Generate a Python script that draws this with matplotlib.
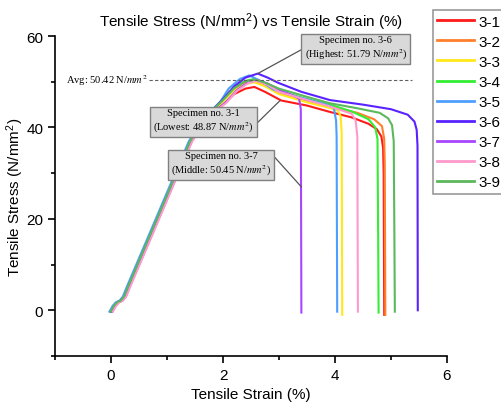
import matplotlib
matplotlib.use("Agg")
import matplotlib.pyplot as plt

plt.rcParams['font.family'] = ['Liberation Sans', 'DejaVu Sans']
plt.rcParams['mathtext.fontset'] = 'stix'

specimens = ['3-1', '3-2', '3-3', '3-4', '3-5', '3-6', '3-7', '3-8', '3-9']
colors = ['#ff1a1a', '#ff7f2a', '#ffe81a', '#33ee33', '#4d9fff',
          '#5a22ff', '#a845ff', '#ff99cc', '#5cb85c']

# elastic part shared by every specimen (strain %, stress N/mm2)
rise_strain = [0.0, 0.06, 0.12, 0.18, 0.24, 0.32, 0.70, 1.13, 1.42, 1.70]
rise_stress = [-0.3, 1.0, 1.8, 2.1, 3.0, 5.4, 16.3, 28.7, 37.0, 42.3]
rise_shift = [0.02, 0.0, 0.01, -0.01, -0.03, 0.0, 0.02, 0.03, -0.01]

# yield / plateau / fracture part of each specimen
tail_strain = {
    '3-1': [2.0, 2.2, 2.4, 2.56, 2.75, 3.04, 3.5, 3.91, 4.3, 4.6, 4.75, 4.83, 4.86, 4.87, 4.88],
    '3-2': [2.0, 2.2, 2.4, 2.55, 2.75, 3.0, 3.5, 3.91, 4.4, 4.7, 4.84, 4.88, 4.89, 4.90],
    '3-3': [2.0, 2.2, 2.4, 2.56, 2.75, 3.0, 3.5, 3.9, 4.05, 4.1, 4.12, 4.13],
    '3-4': [2.0, 2.2, 2.4, 2.55, 2.75, 3.0, 3.5, 3.91, 4.3, 4.6, 4.72, 4.76, 4.77, 4.78],
    '3-5': [1.95, 2.1, 2.3, 2.47, 2.65, 2.9, 3.3, 3.8, 3.98, 4.02, 4.03, 4.04],
    '3-6': [2.0, 2.2, 2.4, 2.62, 2.8, 2.98, 3.4, 3.91, 4.5, 5.0, 5.3, 5.42, 5.46, 5.475, 5.48],
    '3-7': [2.05, 2.25, 2.45, 2.6, 2.8, 3.0, 3.25, 3.36, 3.39, 3.40],
    '3-8': [2.05, 2.25, 2.45, 2.6, 2.8, 3.0, 3.5, 3.91, 4.3, 4.37, 4.40, 4.41],
    '3-9': [2.0, 2.2, 2.4, 2.58, 2.75, 3.0, 3.5, 3.91, 4.4, 4.8, 4.95, 5.02, 5.05, 5.06, 5.07],
}
tail_stress = {
    '3-1': [45.0, 47.3, 48.5, 48.87, 47.8, 45.9, 44.8, 43.4, 42.2, 40.8, 39.6, 38.0, 35.5, 30.0, -1.0],
    '3-2': [45.8, 48.3, 49.7, 50.1, 49.2, 47.6, 45.8, 44.6, 43.2, 41.8, 40.3, 37.5, 32.0, -1.0],
    '3-3': [45.7, 48.1, 49.5, 49.9, 49.0, 47.3, 45.5, 44.3, 43.7, 42.5, 39.0, -1.0],
    '3-4': [46.2, 48.8, 50.2, 50.6, 49.7, 48.0, 46.2, 45.0, 43.5, 41.8, 40.0, 37.5, 20.0, -0.5],
    '3-5': [45.6, 48.5, 50.6, 51.4, 50.3, 48.3, 46.8, 45.2, 44.3, 41.5, 38.0, -0.3],
    '3-6': [46.2, 49.0, 50.9, 51.79, 50.9, 49.8, 47.8, 46.0, 45.0, 44.0, 42.8, 41.3, 39.5, 36.0, 0.0],
    '3-7': [45.5, 48.2, 49.9, 50.45, 49.6, 48.3, 47.0, 46.3, 44.0, -0.5],
    '3-8': [45.3, 48.0, 49.7, 50.2, 49.3, 47.8, 46.0, 44.6, 43.0, 41.5, 38.0, -0.3],
    '3-9': [46.0, 48.6, 50.1, 50.47, 49.8, 48.5, 46.7, 45.3, 44.2, 43.2, 42.0, 40.5, 37.0, 20.0, -0.3],
}

avg_stress = 50.42
avg_span = [0.68, 5.37]

fig = plt.figure(figsize=(5.01, 4.06), dpi=100)
ax = fig.add_axes([0.110, 0.1207, 0.782, 0.788])

for name, c, dx in zip(specimens, colors, rise_shift):
    x = [s + dx for s in rise_strain] + tail_strain[name]
    y = rise_stress + tail_stress[name]
    ax.plot(x, y, color=c, lw=1.5, label=name)

# average line with its label
ax.plot(avg_span, [avg_stress, avg_stress], color='#606060', lw=0.8,
        ls=(0, (3, 2)))
ax.text(avg_span[0] - 0.02, avg_stress, 'Avg: 50.42 N/$mm^2$', ha='right',
        va='center', fontsize=7.6, family='Liberation Serif')

box = dict(boxstyle='square,pad=0.3', fc='#d9d9d9', ec='#808080', lw=1)
arrow = dict(arrowstyle='-', color='#555555', lw=0.9, shrinkA=0, shrinkB=0)
notes = [
    ('Specimen no. 3-6\n(Highest: 51.79 N/$mm^2$)', (2.62, 51.79), (4.37, 57.4), (0, 0.5)),
    ('Specimen no. 3-1\n(Lowest: 48.87 N/$mm^2$)', (3.02, 45.9), (1.65, 41.4), (1, 0.3)),
    ('Specimen no. 3-7\n(Middle: 50.45 N/$mm^2$)', (3.40, 27.0), (1.97, 32.0), (1, 0.9)),
]
for txt, xy, xytext, rel in notes:
    a = dict(arrow, relpos=rel)
    ax.annotate(txt, xy=xy, xytext=xytext, ha='center', va='center',
                fontsize=7.5, family='Liberation Serif', bbox=box,
                arrowprops=a, linespacing=1.3)

ax.set_xlim(-1, 6)
ax.set_ylim(-10, 60)
ax.set_xticks([0, 2, 4, 6])
ax.set_xticks([-1, 1, 3, 5], minor=True)
ax.set_yticks([0, 20, 40, 60])
ax.set_yticks([-10, 10, 30, 50], minor=True)
ax.spines['top'].set_visible(False)
ax.spines['right'].set_visible(False)
ax.spines['left'].set_linewidth(1.2)
ax.spines['bottom'].set_linewidth(1.2)
ax.tick_params(which='major', direction='out', length=5, width=1.2, labelsize=11)
ax.tick_params(which='minor', direction='out', length=3, width=1.2)

ax.set_xlabel('Tensile Strain (%)', fontsize=11, labelpad=4)
ax.set_ylabel('Tensile Stress (N/mm$\\mathregular{^2}$)', fontsize=11, labelpad=0.5)
ax.set_title('Tensile Stress (N/mm$\\mathregular{^2}$) vs Tensile Strain (%)',
             fontsize=11, pad=7)

leg = fig.legend(loc='upper left', bbox_to_anchor=(0.864, 0.973),
                 borderaxespad=0, fontsize=11, handlelength=2.4,
                 labelspacing=0.4, handletextpad=0.3, fancybox=False,
                 borderpad=0.3)
leg.get_frame().set_edgecolor('#808080')
leg.get_frame().set_linewidth(1.2)
for h in leg.get_lines():
    h.set_linewidth(2)

fig.savefig('out.png', dpi=100)
